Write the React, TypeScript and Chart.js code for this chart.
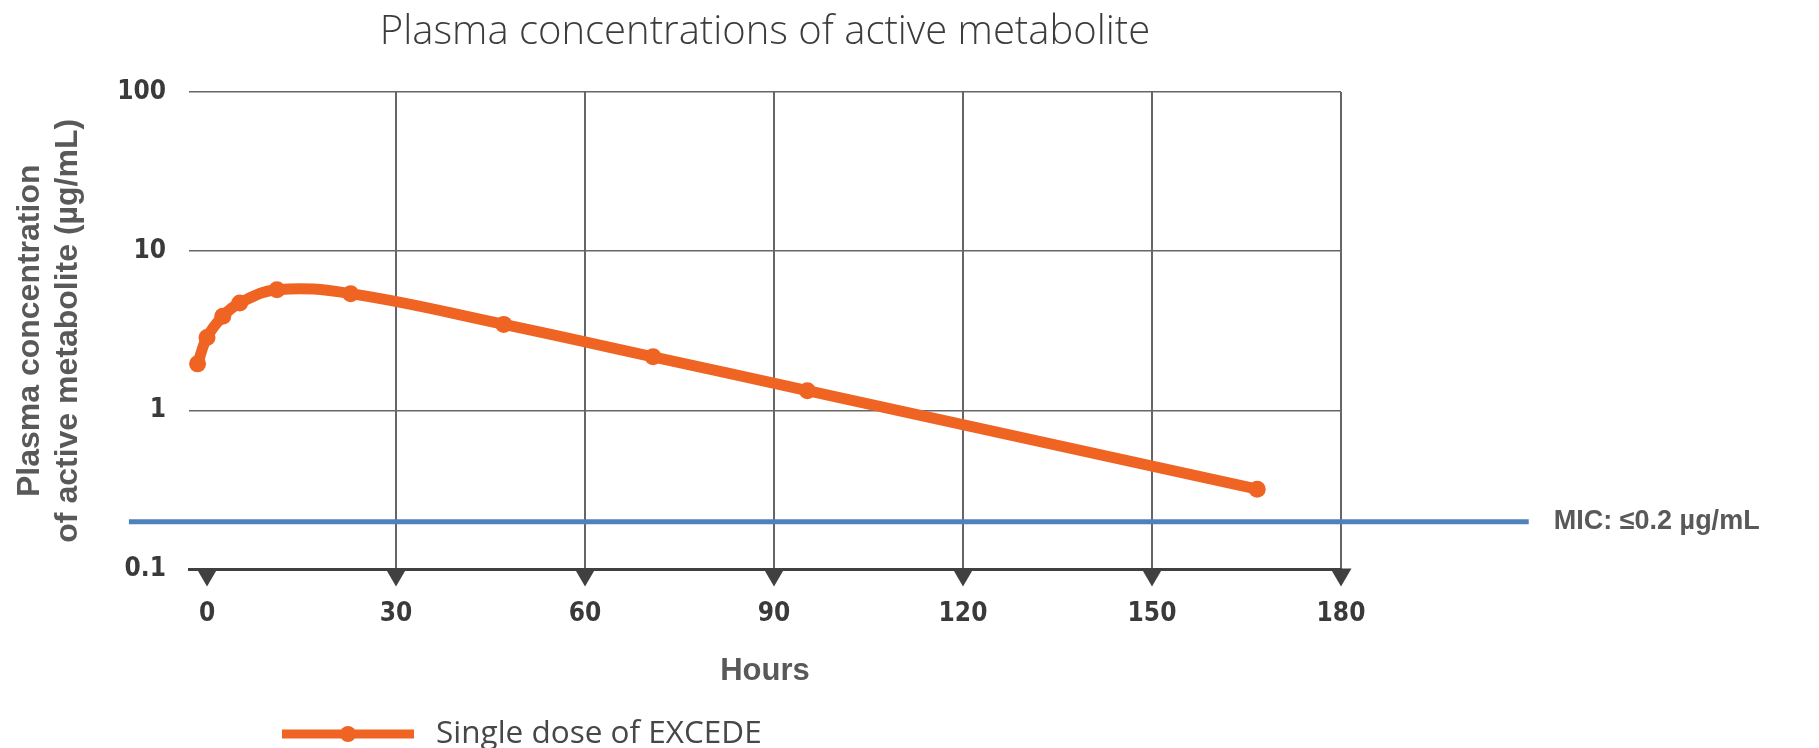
import React, { useEffect, useRef } from "react";
import { Chart, registerables } from "chart.js";

Chart.register(...registerables);

// ---- Data ----
const TITLE = "Plasma concentrations of active metabolite";
const X_TITLE = "Hours";
const Y_TITLE = ["Plasma concentration", "of active metabolite (µg/mL)"];
const SERIES_LABEL = "Single dose of EXCEDE";
const HOURS = [-1.5, 0, 2.5, 5.2, 11.1, 22.8, 47.1, 70.8, 95.3, 166.7];
const CONCENTRATION = [1.96, 2.87, 3.9, 4.73, 5.73, 5.41, 3.47, 2.17, 1.33, 0.32];
const X_TICKS = [0, 30, 60, 90, 120, 150, 180];
const Y_TICKS = [0.1, 1, 10, 100];
const Y_TICK_LABELS = ["0.1", "1", "10", "100"];
const MIC_VALUE = 0.2;
const MIC_LABEL = "MIC: ≤0.2 µg/mL";
const MIC_SPAN_HOURS = [-12.4, 209.8];
const X_RANGE = [-2.86, 180];
const Y_RANGE = [0.1, 100];

// ---- Styles ----
const ORANGE = "#EF6423";
const BLUE = "#4F81BD";
const GRID_COLOR = "#666666";
const AXIS_COLOR = "#404040";
const TICK_COLOR = "#3a3a3a";
const LABEL_GRAY = "#595959";
const TEXT_GRAY = "#474747";
const NARROW = '"Liberation Sans Narrow", "DejaVu Sans Condensed", sans-serif';
const ARIAL = '"Liberation Sans", Arial, sans-serif';
const OPEN = '"Open Sans", "Noto Sans", sans-serif';

const decorations = {
  id: "decorations",
  afterDraw(chart: any) {
    const { ctx, chartArea, scales } = chart;
    const xs = scales.x;
    ctx.save();
    // tick triangles under the axis
    ctx.fillStyle = AXIS_COLOR;
    const base = chartArea.bottom - 1;
    for (const t of X_TICKS) {
      const px = xs.getPixelForValue(t);
      ctx.beginPath();
      ctx.moveTo(px - 10.5, base);
      ctx.lineTo(px + 10.5, base);
      ctx.lineTo(px, base + 18);
      ctx.closePath();
      ctx.fill();
    }
    // MIC label
    const micPts = chart.getDatasetMeta(1).data;
    const last = micPts[micPts.length - 1];
    ctx.font = `bold 27px ${ARIAL}`;
    ctx.fillStyle = LABEL_GRAY;
    ctx.textBaseline = "middle";
    ctx.textAlign = "left";
    ctx.fillText(MIC_LABEL, last.x + 25, last.y);
    // legend
    const lx = chartArea.left + 93;
    const ly = chart.height - 14;
    ctx.strokeStyle = ORANGE;
    ctx.lineWidth = 9;
    ctx.beginPath();
    ctx.moveTo(lx, ly);
    ctx.lineTo(lx + 132, ly);
    ctx.stroke();
    ctx.fillStyle = ORANGE;
    ctx.beginPath();
    ctx.arc(lx + 66, ly, 8, 0, Math.PI * 2);
    ctx.fill();
    ctx.font = `400 31.5px ${OPEN}`;
    ctx.fillStyle = TEXT_GRAY;
    ctx.fillText(chart.data.datasets[0].label, lx + 154, ly);
    ctx.restore();
  },
};

export default function App() {
  const ref = useRef<HTMLCanvasElement | null>(null);

  useEffect(() => {
    document.body.style.margin = "0";
    const canvas = ref.current;
    if (!canvas) return;
    const chart = new Chart(canvas, {
      type: "line",
      data: {
        datasets: [
          {
            label: SERIES_LABEL,
            data: HOURS.map((h, i) => ({ x: h, y: CONCENTRATION[i] })),
            borderColor: ORANGE,
            backgroundColor: ORANGE,
            borderWidth: 11,
            pointRadius: 8.5,
            pointBorderWidth: 0,
            pointBackgroundColor: ORANGE,
            tension: 0.4,
            order: 0,
          },
          {
            label: "MIC",
            data: MIC_SPAN_HOURS.map((h) => ({ x: h, y: MIC_VALUE })),
            borderColor: BLUE,
            backgroundColor: BLUE,
            borderWidth: 5,
            pointRadius: 0,
            tension: 0,
            clip: false,
            order: 1,
          },
        ],
      } as any,
      options: {
        responsive: false,
        animation: false,
        layout: { padding: { left: 0, right: 478, top: 0, bottom: 58 } },
        plugins: {
          legend: { display: false },
          tooltip: { enabled: false },
          title: {
            display: true,
            text: TITLE,
            fullSize: false,
            color: "#3c3c3c",
            font: { family: OPEN, size: 40, weight: "300" as any },
            padding: { top: 9, bottom: 35 },
          },
        },
        scales: {
          x: {
            type: "linear",
            min: X_RANGE[0],
            max: X_RANGE[1],
            afterBuildTicks: (s: any) => {
              s.ticks = X_TICKS.map((v) => ({ value: v }));
            },
            grid: {
              color: (c: any) => (c.tick && c.tick.value === 0 ? "rgba(0,0,0,0)" : GRID_COLOR),
              lineWidth: 2,
              drawTicks: false,
            },
            border: { display: true, color: AXIS_COLOR, width: 3 },
            ticks: {
              padding: 29,
              color: TICK_COLOR,
              autoSkip: false,
              maxRotation: 0,
              font: { family: NARROW, size: 26, weight: "bold" },
              callback: (v: any) => String(v),
            },
            title: {
              display: true,
              text: X_TITLE,
              color: LABEL_GRAY,
              font: { family: ARIAL, size: 31, weight: "bold" },
              padding: { top: -6, bottom: 0 },
            },
          },
          y: {
            type: "logarithmic",
            min: Y_RANGE[0],
            max: Y_RANGE[1],
            afterBuildTicks: (s: any) => {
              s.ticks = Y_TICKS.map((v) => ({ value: v }));
            },
            afterFit: (s: any) => {
              s.width = 189;
            },
            grid: { color: GRID_COLOR, lineWidth: 1.5, drawTicks: false },
            border: { display: false },
            ticks: {
              padding: 23,
              color: TICK_COLOR,
              font: { family: NARROW, size: 26, weight: "bold" },
              callback: (v: any) => {
                const i = Y_TICKS.indexOf(Number(v));
                return i >= 0 ? Y_TICK_LABELS[i] : "";
              },
            },
            title: {
              display: true,
              text: Y_TITLE,
              color: LABEL_GRAY,
              font: { family: ARIAL, size: 32, weight: "bold" },
              padding: { top: 11, bottom: 0 },
            },
          },
        },
      } as any,
      plugins: [decorations],
    });
    return () => chart.destroy();
  }, []);

  return (
    <div style={{ width: 1819, height: 748 }}>
      <canvas ref={ref} width={1819} height={748} style={{ display: "block" }} />
    </div>
  );
}
